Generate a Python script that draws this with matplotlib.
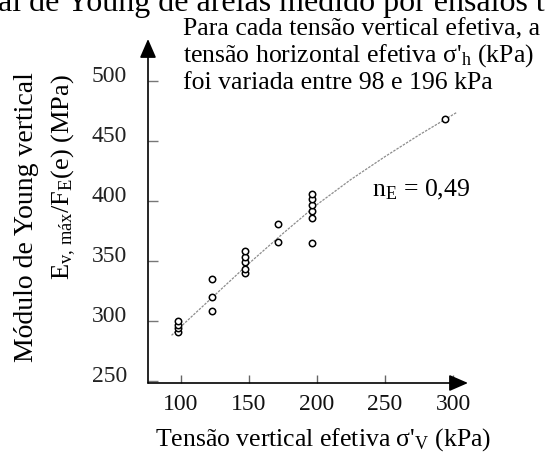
import matplotlib.pyplot as plt
import matplotlib.transforms as mtransforms

plt.rcParams['font.family'] = ['Liberation Serif', 'DejaVu Serif']
plt.rcParams['mathtext.fontset'] = 'custom'
plt.rcParams['mathtext.rm'] = 'Liberation Serif'
plt.rcParams['mathtext.it'] = 'Liberation Serif:italic'

# ensaios: tensao vertical efetiva (kPa) x modulo normalizado (MPa)
sigma_v = [98, 98, 98, 98, 122.5, 122.5, 122.5,
           147, 147, 147, 147, 147, 171.5, 171.5,
           196, 196, 196, 196, 196, 196, 294]
e_norm = [291, 294, 297, 300, 308, 320, 335,
          340, 343, 349, 353, 358, 366, 381,
          365, 386, 392, 397, 402, 406, 468]

# curva ajustada (n_E = 0,49)
fit_x = [93, 110, 130, 150, 175, 200, 225, 250, 275, 303]
fit_y = [288, 306, 327, 348, 373, 397, 418, 437, 455, 474]

x_ticks = [100, 150, 200, 250, 300]
y_ticks = [250, 300, 350, 400, 450, 500]

W, H = 551, 459
fig = plt.figure(figsize=(W / 100, H / 100), dpi=100)


def px(x, y):
    # pixel (a partir do canto superior esquerdo) -> fracao da figura
    return x / W, 1 - y / H


# eixos: origem em (148, 383) px, setas terminando em x=468 e y=39
ax = fig.add_axes([148 / W, 1 - 383 / H, (468 - 148) / W, (383 - 39) / H])
ax.set_xlim(75.7, 311.0)
ax.set_ylim(248.3, 535.0)

ax.plot(fit_x, fit_y, color='#8c8c8c', lw=0.9, ls=(0, (2, 1)))
ax.plot(sigma_v, e_norm, 'o', ms=4.6, mfc='white', mec='black', mew=1.1)

for s in ['top', 'right', 'left', 'bottom']:
    ax.spines[s].set_visible(False)

arrow = dict(arrowstyle='-|>,head_length=1.15,head_width=0.5', color='black',
             lw=1.2, shrinkA=0, shrinkB=0, mutation_scale=10)
ax.annotate('', xy=(1.0, 0), xytext=(0, 0), xycoords='axes fraction', arrowprops=arrow)
ax.annotate('', xy=(0, 1.0), xytext=(0, 0), xycoords='axes fraction', arrowprops=arrow)

ax.set_xticks(x_ticks)
ax.set_yticks(y_ticks)
ax.tick_params(axis='x', direction='in', length=6, width=1, color='#666666',
               labelsize=17, pad=8)
ax.tick_params(axis='y', direction='in', length=7, width=1, color='#777777',
               labelsize=17, pad=15)
# rotulos do eixo y ficam um pouco acima dos tracos
shift = mtransforms.ScaledTranslation(0, 7 / 100, fig.dpi_scale_trans)
for lab in ax.get_yticklabels():
    lab.set_transform(lab.get_transform() + shift)
    lab.set_color('#222222')
for lab in ax.get_xticklabels():
    lab.set_color('#111111')

fig.text(*px(323, 440), "Tensão vertical efetiva σ'$_\\mathrm{V}$ (kPa)",
         fontsize=18.5, ha='center', va='center')

fig.text(*px(27, 72), 'Módulo de Young vertical', rotation=90,
         ha='center', va='top', fontsize=20)
fig.text(*px(64, 74),
         'E$_{\\mathrm{v,\\,máx}}$/F$_\\mathrm{E}$(e) (MPa)', rotation=90,
         ha='center', va='top', fontsize=19)

fig.text(*px(372, 190), 'n$_\\mathrm{E}$ = 0,49', fontsize=18.5,
         ha='left', va='center')

fig.text(*px(183, 35), 'Para cada tensão vertical efetiva, a',
         fontsize=18.5, ha='left', va='baseline')
fig.text(*px(183, 62), "tensão horizontal efetiva σ'$_\\mathrm{h}$ (kPa)",
         fontsize=18.5, ha='left', va='baseline')
fig.text(*px(183, 89), 'foi variada entre 98 e 196 kPa',
         fontsize=18.5, ha='left', va='baseline')

# titulo cortado no topo
fig.text(*px(-2, 11), 'al de Young de areias medido por ensaios t',
         fontsize=23, ha='left', va='baseline')

fig.savefig('out.png', dpi=100)
